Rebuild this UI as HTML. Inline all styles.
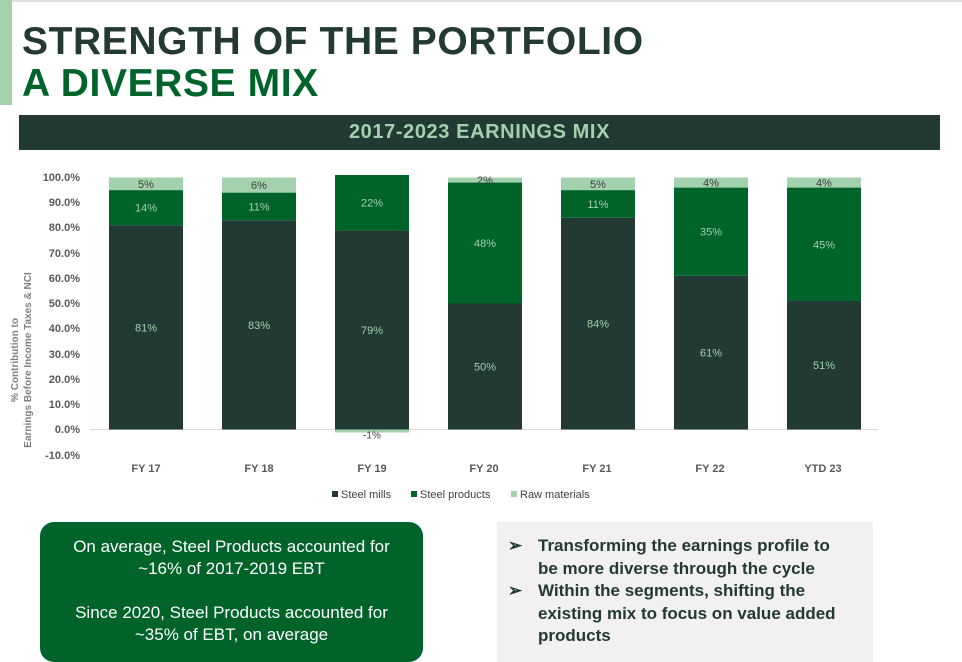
<!DOCTYPE html><html><head><style>
body{margin:0;width:962px;height:655px;overflow:hidden;background:#fff;font-family:"Liberation Sans",sans-serif;position:relative}
.a{position:absolute}
.t{font-weight:bold;font-size:39px;letter-spacing:0.6px;line-height:44px;left:22px}
</style></head><body>
<div class="a" style="left:0;top:0;width:962px;height:2px;background:#ddd"></div>
<div class="a" style="left:0;top:0;width:12px;height:105px;background:#a3d1ad"></div>
<div class="a t" style="top:20px;color:#223a33">STRENGTH OF THE PORTFOLIO</div>
<div class="a t" style="top:62px;color:#00632a">A DIVERSE MIX</div>
<div class="a" style="left:19px;top:115px;width:921px;height:35px;background:#223a33;color:#a3d1ad;font-weight:bold;font-size:20px;letter-spacing:0.6px;text-align:center;line-height:35px">2017-2023 EARNINGS MIX</div>
<svg class="a" style="left:0;top:0" width="962" height="655" font-family="Liberation Sans" >
<g font-size="11" font-weight="bold" fill="#595959" text-anchor="end">
<text x="80" y="181">100.0%</text><text x="80" y="206">90.0%</text><text x="80" y="231">80.0%</text><text x="80" y="257">70.0%</text><text x="80" y="282">60.0%</text><text x="80" y="307">50.0%</text><text x="80" y="332">40.0%</text><text x="80" y="358">30.0%</text><text x="80" y="383">20.0%</text><text x="80" y="408">10.0%</text><text x="80" y="433">0.0%</text><text x="80" y="459">-10.0%</text>
</g>
<g font-size="10" font-weight="bold" fill="#7f7f7f" text-anchor="middle">
<text transform="translate(18,360) rotate(-90)">% Contribution to</text>
<text transform="translate(31,360) rotate(-90)">Earnings Before Income Taxes &amp; NCI</text>
</g>
<line x1="90" y1="429.5" x2="878" y2="429.5" stroke="#d9d9d9"/>
<g id="bars" font-size="11" text-anchor="middle"></g>
<g font-size="11" font-weight="bold" fill="#595959" text-anchor="middle">
<text x="146" y="472">FY 17</text><text x="259" y="472">FY 18</text><text x="372" y="472">FY 19</text><text x="484" y="472">FY 20</text><text x="597" y="472">FY 21</text><text x="710" y="472">FY 22</text><text x="823" y="472">YTD 23</text>
</g>
<g font-size="11" fill="#404040">
<rect x="332" y="491" width="6" height="6" fill="#223a33"/><text x="341" y="498">Steel mills</text>
<rect x="411" y="491" width="6" height="6" fill="#00632a"/><text x="420" y="498">Steel products</text>
<rect x="511" y="491" width="6" height="6" fill="#a3d1ad"/><text x="520" y="498">Raw materials</text>
</g>
</svg>
<div class="a" style="left:40px;top:522px;width:383px;height:140px;background:#00632a;border-radius:14px;color:#fff;font-size:17px;text-align:center;line-height:22px">
<div style="margin-top:14px">On average, Steel Products accounted for<br>~16% of 2017-2019 EBT</div>
<div style="margin-top:22px">Since 2020, Steel Products accounted for<br>~35% of EBT, on average</div></div>
<div class="a" style="left:497px;top:522px;width:376px;height:140px;background:#f2f1ef"></div>
<div class="a" style="left:508px;top:535px;font-size:17px;font-weight:bold;color:#223a33;line-height:22.5px">
<div style="position:relative;padding-left:30px"><span style="position:absolute;left:0">➢</span>Transforming the earnings profile to<br>be more diverse through the cycle</div>
<div style="position:relative;padding-left:30px"><span style="position:absolute;left:0">➢</span>Within the segments, shifting the<br>existing mix to focus on value added<br>products</div></div>
<script>
var d=[[81,14,5],[83,11,6],[79,22,-1],[50,48,2],[84,11,5],[61,35,4],[51,45,4]];
var g=document.getElementById('bars'),s='',Z=429.5,k=2.52;
d.forEach(function(v,i){var x=109+i*113,w=74,cx=x+37;
var y1=Z-v[0]*k,y2=y1-v[1]*k;
s+='<rect x="'+x+'" y="'+y1+'" width="'+w+'" height="'+(v[0]*k)+'" fill="#223a33"/>';
s+='<rect x="'+x+'" y="'+y2+'" width="'+w+'" height="'+(v[1]*k)+'" fill="#00632a"/>';
s+='<text x="'+cx+'" y="'+((Z+y1)/2+4)+'" fill="#a3d1ad">'+v[0]+'%</text>';
s+='<text x="'+cx+'" y="'+((y1+y2)/2+4)+'" fill="#a3d1ad">'+v[1]+'%</text>';
if(v[2]>0){var y3=y2-v[2]*k;s+='<rect x="'+x+'" y="'+y3+'" width="'+w+'" height="'+(v[2]*k)+'" fill="#a3d1ad"/>';
s+='<text x="'+cx+'" y="'+((y2+y3)/2+4)+'" fill="#404040">'+v[2]+'%</text>';}
else{s+='<rect x="'+x+'" y="'+Z+'" width="'+w+'" height="3" fill="#a3d1ad"/><text x="'+cx+'" y="'+(Z+9)+'" fill="#404040" font-size="10">'+v[2]+'%</text>';}
});g.innerHTML=s;
</script>
</body></html>
